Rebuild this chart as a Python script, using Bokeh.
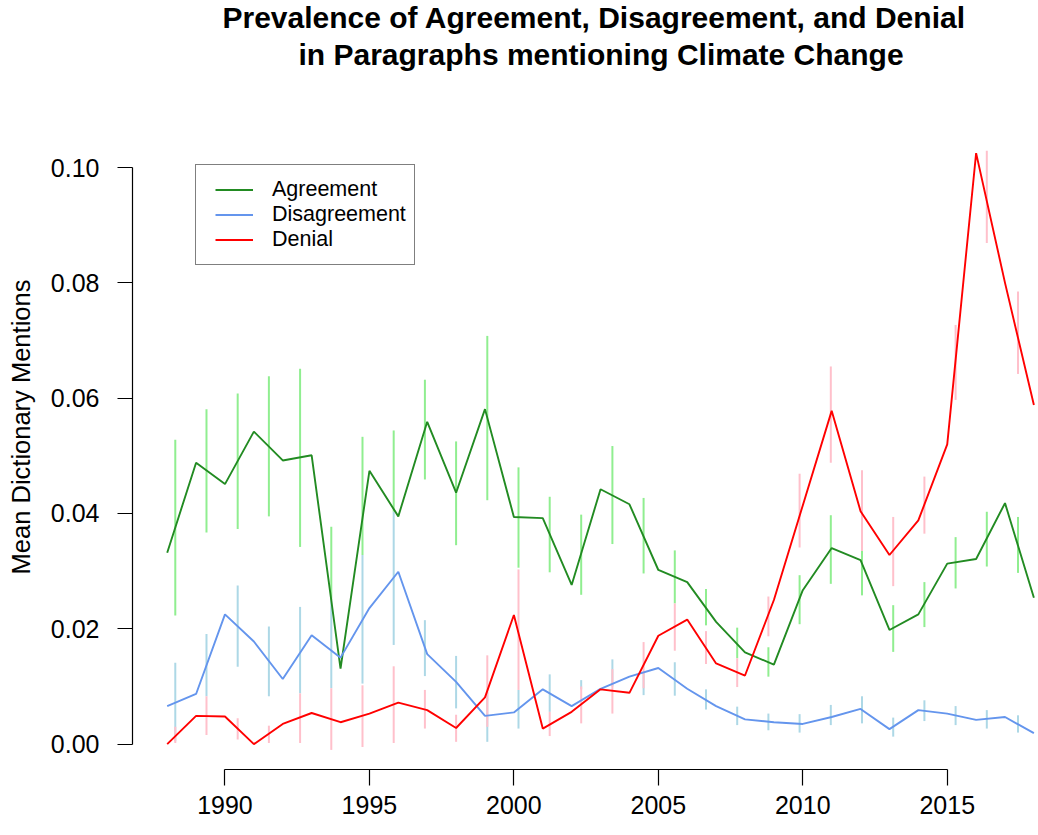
from bokeh.plotting import figure
from bokeh.models import Range1d, FixedTicker, PrintfTickFormatter, Legend, LegendItem, Title
from bokeh.embed import file_html
from bokeh.resources import INLINE

# ---------------- data ----------------
years = [1988, 1989, 1990, 1991, 1992, 1993, 1994, 1995, 1996, 1997, 1998,
         1999, 2000, 2001, 2002, 2003, 2004, 2005, 2006, 2007, 2008, 2009,
         2010, 2011, 2012, 2013, 2014, 2015, 2016, 2017, 2018]

agreement = [0.0332, 0.0488, 0.0451, 0.0542, 0.0492, 0.0501, 0.0131, 0.0474,
             0.0395, 0.0559, 0.0436, 0.0581, 0.0394, 0.0392, 0.0276,
             0.0442, 0.0416, 0.0302, 0.0281, 0.0212, 0.0159, 0.0138,
             0.0267, 0.0340, 0.0319, 0.0198, 0.0225, 0.0313, 0.0321, 0.0418, 0.0254]

disagreement = [0.0066, 0.0087, 0.0225, 0.0178, 0.0113, 0.0189, 0.0150, 0.0236,
                0.0299, 0.0156, 0.0108, 0.0049, 0.0055, 0.0095, 0.0066,
                0.0096, 0.0117, 0.0132, 0.0096, 0.0066, 0.0043, 0.0038,
                0.0035, 0.0047, 0.0061, 0.0026, 0.0059, 0.0053, 0.0042, 0.0047, 0.0019]

denial = [0.0000, 0.0049, 0.0048, 0.0000, 0.0035, 0.0054, 0.0038, 0.0053,
          0.0072, 0.0059, 0.0028, 0.0081, 0.0224, 0.0027, 0.0056,
          0.0095, 0.0089, 0.0188, 0.0216, 0.0140, 0.0119, 0.0250,
          0.0414, 0.0578, 0.0404, 0.0328, 0.0388, 0.0520, 0.1025, 0.0800, 0.0588]

# error-bar positions (as drawn in the original, on the year axis)
err_x = [1988.28, 1989.36, 1990.44, 1991.52, 1992.60, 1993.68, 1994.76,
         1995.84, 1996.92, 1998.00, 1999.08, 2000.16, 2001.24, 2002.33,
         2003.41, 2004.49, 2005.57, 2006.65, 2007.73, 2008.81, 2009.89,
         2010.97, 2012.05, 2013.13, 2014.21, 2015.29, 2016.37, 2017.45]

agree_hi = [0.0528, 0.0581, 0.0608, 0.0638, 0.0651, 0.0377, 0.0533, 0.0544,
            0.0632, 0.0525, 0.0708, 0.0480, 0.0429, 0.0398, 0.0517, 0.0427,
            0.0336, 0.0269, 0.0202, 0.0168, 0.0293, 0.0397, 0.0370, 0.0241,
            0.0281, 0.0359, 0.0403, 0.0394]
agree_lo = [0.0223, 0.0367, 0.0373, 0.0395, 0.0342, 0.0250, 0.0328, 0.0403,
            0.0459, 0.0345, 0.0423, 0.0306, 0.0298, 0.0259, 0.0347, 0.0296,
            0.0244, 0.0206, 0.0149, 0.0117, 0.0208, 0.0278, 0.0258, 0.0160,
            0.0203, 0.0270, 0.0308, 0.0297]

disagree_hi = [0.0141, 0.0191, 0.0275, 0.0204, 0.0238, 0.0250, 0.0328, 0.0403,
               0.0215, 0.0153, 0.0090, 0.0094, 0.0121, 0.0111, 0.0147, 0.0125,
               0.0142, 0.0095, 0.0065, 0.0053, 0.0052, 0.0068, 0.0083, 0.0046,
               0.0076, 0.0066, 0.0059, 0.0050]
disagree_lo = [0.0005, 0.0083, 0.0134, 0.0083, 0.0088, 0.0097, 0.0105, 0.0172,
               0.0118, 0.0062, 0.0004, 0.0027, 0.0056, 0.0095, 0.0100, 0.0085,
               0.0084, 0.0060, 0.0033, 0.0024, 0.0020, 0.0033, 0.0036, 0.0013,
               0.0040, 0.0033, 0.0027, 0.0020]

denial_hi = [0.0030, 0.0083, 0.0045, 0.0032, 0.0088, 0.0097, 0.0102, 0.0135,
             0.0094, 0.0051, 0.0154, 0.0303, 0.0056, 0.0100, 0.0130, 0.0177,
             0.0244, 0.0196, 0.0149, 0.0256, 0.0469, 0.0655, 0.0475, 0.0394,
             0.0464, 0.0727, 0.1029, 0.0785]
denial_lo = [0.0002, 0.0016, 0.0008, 0.0002, 0.0002, -0.0010, -0.0005, 0.0002,
             0.0027, 0.0004, 0.0030, 0.0094, 0.0014, 0.0036, 0.0053, 0.0097,
             0.0162, 0.0139, 0.0099, 0.0187, 0.0341, 0.0488, 0.0335, 0.0274,
             0.0365, 0.0597, 0.0869, 0.0642]

x_ticks = [1990, 1995, 2000, 2005, 2010, 2015]
y_ticks = [0.0, 0.02, 0.04, 0.06, 0.08, 0.10]

series_names = ["Agreement", "Disagreement", "Denial"]
title_lines = ["Prevalence of Agreement, Disagreement, and Denial",
               "in Paragraphs mentioning Climate Change"]
y_label = "Mean Dictionary Mentions"

# ---------------- figure ----------------
FONT = "Liberation Sans"

p = figure(width=1036, height=833,
           x_range=Range1d(1986.799, 2018.09),
           y_range=Range1d(-0.0044, 0.1144),
           output_backend="svg", toolbar_location=None,
           min_border_left=132, min_border_right=0,
           min_border_top=84, min_border_bottom=64)
p.outline_line_color = None
p.xgrid.visible = False
p.ygrid.visible = False
p.background_fill_color = "white"
p.border_fill_color = "white"

# axes (R style, limited to the tick range)
p.xaxis.ticker = FixedTicker(ticks=x_ticks)
p.xaxis.bounds = (x_ticks[0], x_ticks[-1])
p.yaxis.ticker = FixedTicker(ticks=y_ticks)
p.yaxis.bounds = (y_ticks[0], y_ticks[-1])
p.yaxis.formatter = PrintfTickFormatter(format="%.2f")
for ax in (p.xaxis, p.yaxis):
    ax.axis_line_color = "black"
    ax.axis_line_width = 1.2
    ax.major_tick_line_color = "black"
    ax.major_tick_line_width = 1.2
    ax.major_tick_in = 0
    ax.minor_tick_line_color = None
    ax.major_label_text_font = FONT
    ax.major_label_text_font_size = "25px"
    ax.major_label_text_color = "black"
p.xaxis.major_tick_out = 16
p.xaxis.major_label_standoff = 10
p.yaxis.major_tick_out = 15
p.yaxis.major_label_standoff = 18
p.yaxis.axis_label = y_label
p.yaxis.axis_label_text_font = FONT
p.yaxis.axis_label_text_font_size = "25.5px"
p.yaxis.axis_label_text_font_style = "normal"
p.yaxis.axis_label_text_color = "black"
p.yaxis.axis_label_standoff = 13

# error bars
p.segment(x0=err_x, y0=agree_lo, x1=err_x, y1=agree_hi, line_color="#90EE90", line_width=2)
p.segment(x0=err_x, y0=disagree_lo, x1=err_x, y1=disagree_hi, line_color="#ADD8E6", line_width=2)
p.segment(x0=err_x, y0=denial_lo, x1=err_x, y1=denial_hi, line_color="#FFC0CB", line_width=2)

# lines
r_a = p.line(years, agreement, line_color="#228B22", line_width=1.9)
r_d = p.line(years, disagreement, line_color="#6495ED", line_width=1.9)
r_n = p.line(years, denial, line_color="#FF0000", line_width=1.9)

legend = Legend(items=[LegendItem(label=series_names[0], renderers=[r_a]),
                       LegendItem(label=series_names[1], renderers=[r_d]),
                       LegendItem(label=series_names[2], renderers=[r_n])],
                location=(63, 504), margin=0,
                padding=dict(left=19, right=8, top=12, bottom=12), spacing=0,
                label_height=23, glyph_height=23, glyph_width=38,
                label_standoff=19,
                label_text_font=FONT, label_text_font_size="21.5px",
                label_text_color="black",
                border_line_color="black", border_line_width=1.2,
                background_fill_color="white", background_fill_alpha=1.0)
p.add_layout(legend, "center")

# title: two bold lines above the plotting region (first added is nearest the frame)
p.add_layout(Title(text=title_lines[1], align="left", offset=166, standoff=28,
                   text_font=FONT, text_font_size="30px", text_font_style="bold",
                   text_color="black"), "above")
p.add_layout(Title(text=title_lines[0], align="left", offset=90, standoff=-25,
                   text_font=FONT, text_font_size="30px", text_font_style="bold",
                   text_color="black"), "above")

open("out.html", "w").write(file_html(p, INLINE))
